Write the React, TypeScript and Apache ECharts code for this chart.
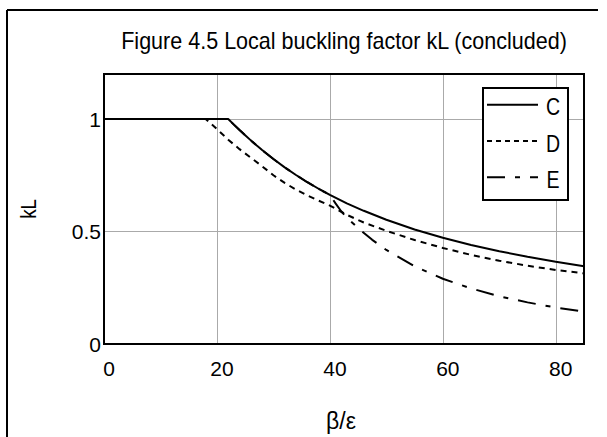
import React, { useEffect, useRef } from "react";
import * as echarts from "echarts";

const titleText = "Figure 4.5 Local buckling factor kL (concluded)";
const xName = "β/ε";
const yName = "kL";
const seriesNames = ["C", "D", "E"];

const xC = [0, 22, 23, 24, 25, 26, 27, 28, 30, 32, 34, 36, 38, 40, 43, 46, 50, 55, 60, 65, 70, 75, 80, 85];
const yC = [1, 1, 0.975, 0.951, 0.928, 0.905, 0.883, 0.862, 0.822, 0.785, 0.751, 0.719, 0.69, 0.663, 0.625, 0.592, 0.552, 0.509, 0.472, 0.44, 0.412, 0.388, 0.366, 0.346];

const xD = [0, 18, 19, 20, 22, 24, 26, 28, 30, 32, 34, 36, 38, 40, 43, 46, 50, 55, 60, 65, 70, 75, 80, 85];
const yD = [1, 1, 0.978, 0.955, 0.908, 0.866, 0.828, 0.79, 0.75, 0.716, 0.686, 0.66, 0.637, 0.615, 0.574, 0.54, 0.503, 0.462, 0.427, 0.396, 0.37, 0.348, 0.329, 0.314];

const xE = [0, 22, 23, 24, 25, 26, 27, 28, 30, 32, 34, 36, 38, 40, 41, 42, 43, 45, 47.5, 50, 55, 60, 65, 70, 75, 80, 85];
const yE = [1, 1, 0.975, 0.951, 0.928, 0.905, 0.883, 0.862, 0.822, 0.785, 0.751, 0.719, 0.69, 0.663, 0.625, 0.59, 0.562, 0.515, 0.463, 0.418, 0.345, 0.29, 0.247, 0.212, 0.185, 0.162, 0.144];

const yTickLabels: Record<string, string> = { "0": "0", "0.5": "0.5", "1": "1" };
const xTickLabels: Record<string, string> = { "0": "0", "20": "20", "40": "40", "60": "60", "80": "80" };

const FONT = "'Liberation Sans Narrow', 'Liberation Sans', Arial, sans-serif";
const TFONT = "'Liberation Sans', Arial, sans-serif";
const dashD = [6, 5];
const dashE = [18, 10, 5, 10];

export default function App() {
  const ref = useRef<HTMLDivElement>(null);
  useEffect(() => {
    if (!ref.current) return;
    const chart = echarts.init(ref.current, undefined, { renderer: "svg" });
    const pair = (xs: number[], ys: number[]) => xs.map((x, i) => [x, ys[i]]);
    const lineCommon = {
      type: "line",
      showSymbol: false,
      symbol: "none",
      smooth: false,
      silent: true,
    };
    const legendTop = 88;
    const legendRows = [104.7, 141, 177.3];
    const legendDash: (number[] | null)[] = [null, [5, 4], dashE];
    const legendGraphics: any[] = [
      {
        type: "rect",
        shape: { x: 483, y: legendTop, width: 85, height: 112 },
        style: { fill: "#fff", stroke: "#000", lineWidth: 2 },
        z: 100,
      },
    ];
    seriesNames.forEach((n, i) => {
      legendGraphics.push({
        type: "line",
        shape: { x1: 487, y1: legendRows[i], x2: 538, y2: legendRows[i] },
        style: { stroke: "#000", lineWidth: 2, lineDash: legendDash[i] || undefined },
        z: 101,
      });
      legendGraphics.push({
        type: "text",
        x: 553,
        y: legendRows[i] + 3,
        scaleX: 0.85,
        style: {
          text: n,
          fill: "#000",
          font: `23px ${TFONT}`,
          textAlign: "center",
          textVerticalAlign: "middle",
        },
        z: 101,
      });
    });
    chart.setOption({
      animation: false,
      backgroundColor: "#fff",
      grid: {
        left: 104,
        top: 74,
        width: 480,
        height: 270,
        show: true,
        borderColor: "#000",
        borderWidth: 2,
        z: 10,
      },
      xAxis: {
        type: "value",
        min: 0,
        max: 85,
        interval: 20,
        axisLine: { show: false },
        axisTick: { show: false },
        splitLine: { show: true, lineStyle: { color: "#aaaaaa", width: 1 } },
        axisLabel: {
          color: "#000",
          fontSize: 21,
          fontFamily: FONT,
          margin: 14,
          padding: [0, 0, 0, 10],
          showMaxLabel: false,
          formatter: (v: number) => xTickLabels[String(v)] ?? "",
        },
      },
      yAxis: {
        type: "value",
        min: 0,
        max: 1.2,
        interval: 0.5,
        axisLine: { show: false },
        axisTick: { show: false },
        splitLine: { show: true, lineStyle: { color: "#aaaaaa", width: 1 } },
        axisLabel: {
          color: "#000",
          fontSize: 21,
          fontFamily: FONT,
          margin: 3,
          padding: [10, 0, 0, 0],
          showMaxLabel: false,
          formatter: (v: number) => yTickLabels[String(v)] ?? "",
        },
      },
      series: [
        { ...lineCommon, name: "C", data: pair(xC, yC), lineStyle: { color: "#000", width: 2, type: "solid" }, z: 5 },
        { ...lineCommon, name: "D", data: pair(xD, yD), lineStyle: { color: "#000", width: 2, type: dashD }, z: 4 },
        { ...lineCommon, name: "E", data: pair(xE, yE), lineStyle: { color: "#000", width: 2, type: dashE }, z: 3 },
      ],
      graphic: [
        {
          type: "line",
          shape: { x1: 7, y1: 10, x2: 598, y2: 10 },
          style: { stroke: "#000", lineWidth: 2 },
        },
        {
          type: "line",
          shape: { x1: 7, y1: 10, x2: 7, y2: 440 },
          style: { stroke: "#000", lineWidth: 2 },
        },
        {
          type: "text",
          x: 344,
          y: 41,
          scaleX: 0.937,
          style: {
            text: titleText,
            fill: "#000",
            font: `23px ${TFONT}`,
            textAlign: "center",
            textVerticalAlign: "middle",
          },
        },
        {
          type: "text",
          x: 28,
          y: 209,
          rotation: Math.PI / 2,
          scaleX: 0.85,
          style: {
            text: yName,
            fill: "#000",
            font: `22px ${TFONT}`,
            textAlign: "center",
            textVerticalAlign: "middle",
          },
        },
        {
          type: "text",
          x: 341,
          y: 421,
          style: {
            text: xName,
            fill: "#000",
            font: `23px ${TFONT}`,
            textAlign: "center",
            textVerticalAlign: "middle",
          },
        },
        ...legendGraphics,
      ],
    });
    return () => chart.dispose();
  }, []);
  return (
    <div
      ref={ref}
      style={{ position: "fixed", left: 0, top: 0, width: 607, height: 437 }}
    />
  );
}
